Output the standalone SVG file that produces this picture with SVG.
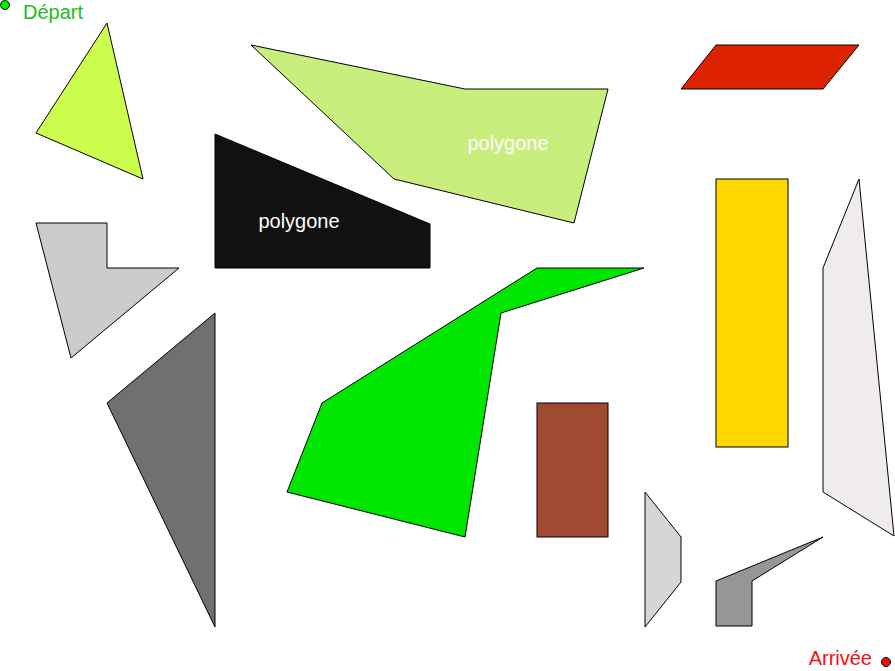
<svg xmlns="http://www.w3.org/2000/svg" width="895" height="671" viewBox="0 0 895 671">
<style>
.p{stroke:#000;stroke-width:1;stroke-linejoin:miter}
.t{font-family:"Liberation Sans",Arial,sans-serif;font-size:20px}
</style>
<rect width="895" height="671" fill="#fff"/>
<g id="triangle1"><polygon class="p" fill="#ccff4d" points="107,23 36,133 143,179"/></g>
<g id="poly-lightgreen"><polygon class="p" fill="#c8ee7e" points="251,45 465,89 608,89 574,223 394,179"/><text class="t" x="508" y="150" fill="#fff" text-anchor="middle">polygone</text></g>
<g id="poly-black"><polygon class="p" fill="#111" points="215,134 430,224 430,268 215,268"/><text class="t" x="299" y="228" fill="#fff" text-anchor="middle">polygone</text></g>
<g id="parallelogram"><polygon class="p" fill="#dd2200" points="716,45 859,45 823,89 681,89"/></g>
<g id="rect-yellow"><rect class="p" fill="#ffd800" x="716" y="179" width="72" height="268"/></g>
<g id="poly-white"><polygon class="p" fill="#f0ecec" points="859,179 894,536 823,492 823,268"/></g>
<g id="poly-lgray"><polygon class="p" fill="#cccccc" points="36,223 107,223 107,268 179,268 71,358"/></g>
<g id="triangle-dgray"><polygon class="p" fill="#707070" points="215,313 107,403 215,627"/></g>
<g id="poly-green"><polygon class="p" fill="#00e600" points="537,268 644,268 501,313 465,537 287,492 322,403"/></g>
<g id="rect-brown"><rect class="p" fill="#a04a32" x="537" y="403" width="71" height="134"/></g>
<g id="trapezoid"><polygon class="p" fill="#d6d6d6" points="645,492 681,537 681,582 645,627"/></g>
<g id="poly-gray"><polygon class="p" fill="#969696" points="823,537 716,581 716,626 752,626 752,581"/></g>
<g id="depart"><circle cx="5" cy="5" r="4.5" fill="#00ee00" stroke="#000" stroke-width="1"/><text class="t" x="23" y="19" fill="#22bb22">Départ</text></g>
<g id="arrivee"><text class="t" x="872" y="665" fill="#ee1111" text-anchor="end">Arrivée</text><circle cx="886" cy="662" r="4.5" fill="#ee1111" stroke="#000" stroke-width="1"/></g>
<g id="connectors"></g>
</svg>
